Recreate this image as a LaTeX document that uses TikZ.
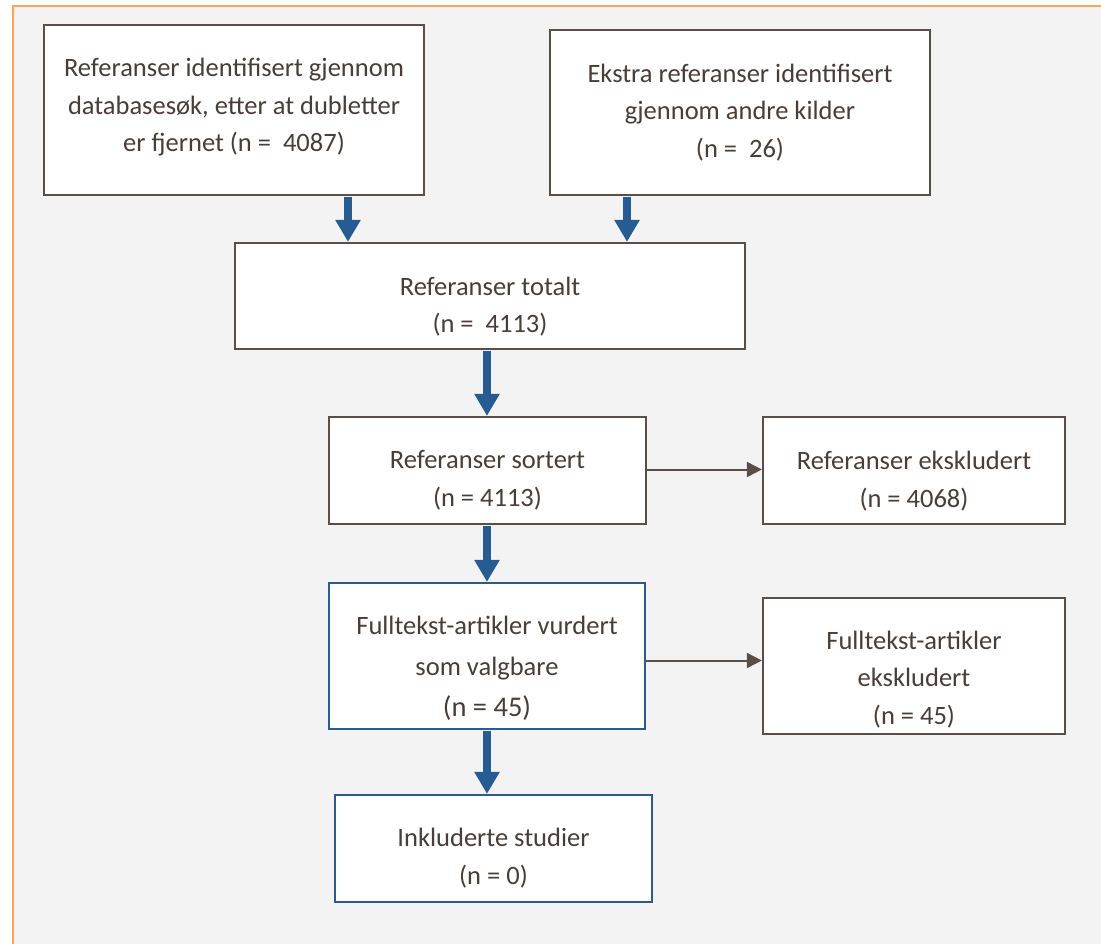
\documentclass[tikz,border=0pt]{standalone}
\usepackage{fontspec}
\setmainfont{Carlito}
\usetikzlibrary{arrows.meta}
\definecolor{bg}{HTML}{F3F3F3}
\definecolor{frame}{HTML}{F8A655}
\definecolor{boxline}{HTML}{5B4E47}
\definecolor{blueline}{HTML}{2C5B8C}
\definecolor{arrowblue}{HTML}{275C92}
\definecolor{txtcol}{HTML}{4A3D37}
\begin{document}
\begin{tikzpicture}[x=1pt,y=-1pt,
  box/.style={draw=boxline, line width=2.2pt, fill=white, inner sep=0pt},
  bluebox/.style={box, draw=blueline},
  txt/.style={text=txtcol, align=center, inner sep=0pt, font=\fontsize{26.5}{37.5}\selectfont},
  bigarrow/.style={draw=arrowblue, line width=8pt, -{Triangle[width=24pt,length=22pt]}},
  thinarrow/.style={draw=boxline, line width=2pt, -{Triangle[width=15pt,length=15pt]}}]
\useasboundingbox (0,0) rectangle (1101,944);
\fill[bg] (13,6) rectangle (1101,944);
\draw[frame, line width=2.5pt] (13,944) -- (13,6) -- (1101,6);

% boxes
\node[box, minimum width=380, minimum height=170] (b1) at (234,110) {};
\node[box, minimum width=380, minimum height=165] (b2) at (740,112.5) {};
\node[box, minimum width=510, minimum height=106] (b3) at (490,296) {};
\node[box, minimum width=317, minimum height=107] (b4) at (487.5,470.5) {};
\node[box, minimum width=302, minimum height=107] (b5) at (914,470.5) {};
\node[bluebox, minimum width=316, minimum height=146] (b6) at (487,656) {};
\node[box, minimum width=302, minimum height=136] (b7) at (914,666) {};
\node[bluebox, minimum width=317, minimum height=107] (b8) at (493.5,848.5) {};

% texts
\node[txt] (t1) at (234,107.5) {Referanser identifisert gjennom\\databasesøk, etter at dubletter\\er fjernet (n =\ \ 4087)};
\node[txt] (t2) at (740,112.5) {Ekstra referanser identifisert\\gjennom andre kilder\\(n =\ \ 26)};
\node[txt] (t3) at (490,306.5) {Referanser totalt\\(n =\ \ 4113)};
\node[txt] (t4) at (487.5,480.5) {Referanser sortert\\(n = 4113)};
\node[txt] (t5) at (914,481) {Referanser ekskludert\\(n = 4068)};
\node[txt, font=\fontsize{26.5}{41}\selectfont] (t6) at (487,668) {Fulltekst-artikler vurdert\\som valgbare\\{\fontsize{28.5}{41}\selectfont (n = 45)}};
\node[txt] (t7) at (914,679.5) {Fulltekst-artikler\\ekskludert\\(n = 45)};
\node[txt] (t8) at (493.5,858) {Inkluderte studier\\(n = 0)};

% connectors
\coordinate (c1) at (348,0);
\coordinate (c2) at (627,0);
\coordinate (c3) at (487,0);
\draw[bigarrow, shorten <=1pt] (b1.south -| c1) -- (b3.north -| c1);
\draw[bigarrow, shorten <=1pt] (b2.south -| c2) -- (b3.north -| c2);
\draw[bigarrow, shorten <=1pt] (b3.south -| c3) -- (b4.north -| c3);
\draw[bigarrow, shorten <=1pt] (b4.south -| c3) -- (b6.north -| c3);
\draw[bigarrow, shorten <=1pt] (b6.south -| c3) -- (b8.north -| c3);

\coordinate (h1) at (0,469.5);
\coordinate (h2) at (0,660.5);
\draw[thinarrow] (b4.east |- h1) -- (b5.west |- h1);
\draw[thinarrow] (b6.east |- h2) -- (b7.west |- h2);
\end{tikzpicture}
\end{document}
